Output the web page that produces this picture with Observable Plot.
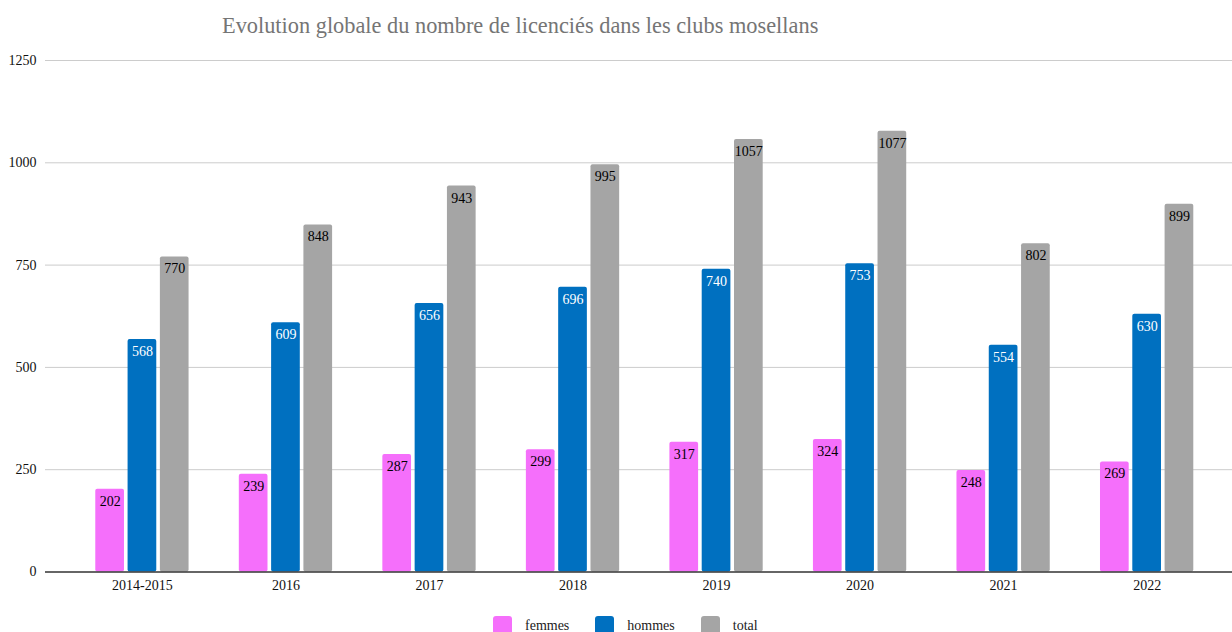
<!DOCTYPE html>
<html>
<head>
<meta charset="utf-8">
<script src="https://cdn.jsdelivr.net/npm/d3@7"></script>
<script src="https://cdn.jsdelivr.net/npm/@observablehq/plot@0.6"></script>
<style>
  html, body { margin: 0; padding: 0; background: #fff; overflow: hidden; }
  body { width: 1232px; height: 632px; font-family: "Liberation Serif", "Times New Roman", serif; }
  #title { height: 42px; box-sizing: border-box; padding-top: 15px; padding-left: 222px; font-size: 22.35px; line-height: 1; color: #757575; white-space: nowrap; }
  #legend { height: 32px; box-sizing: border-box; padding-top: 16px; padding-left: 493px; display: flex; align-items: flex-start; font-size: 14px; line-height: 19px; color: #222; }
  .item { display: flex; align-items: flex-start; margin-right: 26px; }
  .sw { width: 19px; height: 19px; border-radius: 3px; margin-right: 13px; }
  svg { display: block; }
</style>
</head>
<body>
<div id="title">Evolution globale du nombre de licenciés dans les clubs mosellans</div>
<div id="chart"></div>
<div id="legend"></div>
<script>
const years = ["2014-2015", "2016", "2017", "2018", "2019", "2020", "2021", "2022"];
const femmes = [202, 239, 287, 299, 317, 324, 248, 269];
const hommes = [568, 609, 656, 696, 740, 753, 554, 630];
const total  = [770, 848, 943, 995, 1057, 1077, 802, 899];
const seriesNames = ["femmes", "hommes", "total"];
const seriesColors = ["#f56ffb", "#0070c0", "#a5a5a5"];
const labelColors = ["#000000", "#ffffff", "#000000"];
const yTicks = [0, 250, 500, 750, 1000, 1250];

const seriesValues = [femmes, hommes, total];
const data = years.flatMap((year, i) =>
  seriesNames.map((s, j) => ({ year, serie: s, value: seriesValues[j][i] }))
);

const barWidth = 28.7;
const bandW = 93.3;
const offsets = [-32.3, 0, 32.3];

const marks = [
  Plot.ruleY(yTicks.filter(d => d > 0), { stroke: "#cccccc", strokeWidth: 1 })
];
seriesNames.forEach((s, j) => {
  const sub = data.filter(d => d.serie === s);
  const left = (bandW - barWidth) / 2 + offsets[j];
  const right = bandW - barWidth - left;
  marks.push(Plot.barY(sub, {
    x: "year", y: "value", fill: seriesColors[j],
    insetLeft: left, insetRight: right, rx: 2
  }));
});
marks.push(Plot.ruleY([0], { stroke: "#333333", strokeWidth: 1.5 }));
seriesNames.forEach((s, j) => {
  const sub = data.filter(d => d.serie === s);
  marks.push(Plot.text(sub, {
    x: "year", y: "value", text: d => String(d.value),
    dx: offsets[j], dy: 12, fill: labelColors[j], fontSize: 14
  }));
});

const chart = Plot.plot({
  width: 1232,
  height: 558,
  marginLeft: 45,
  marginRight: 0,
  marginTop: 18,
  marginBottom: 28.5,
  style: { fontFamily: "Liberation Serif", fontSize: "14px", color: "#111", background: "#fff" },
  x: { domain: years, round: false, paddingInner: 0.35, paddingOuter: 0.31, align: 0.565, tickSize: 0, tickPadding: 8, label: null },
  y: { domain: [0, 1250], ticks: yTicks, tickFormat: d => String(d), tickSize: 0, tickPadding: 9, label: null },
  marks
});
document.getElementById("chart").appendChild(chart);

const legend = document.getElementById("legend");
seriesNames.forEach((s, j) => {
  const item = document.createElement("div");
  item.className = "item";
  const sw = document.createElement("div");
  sw.className = "sw";
  sw.style.background = seriesColors[j];
  const lab = document.createElement("span");
  lab.textContent = s;
  item.appendChild(sw);
  item.appendChild(lab);
  legend.appendChild(item);
});
</script>
</body>
</html>
